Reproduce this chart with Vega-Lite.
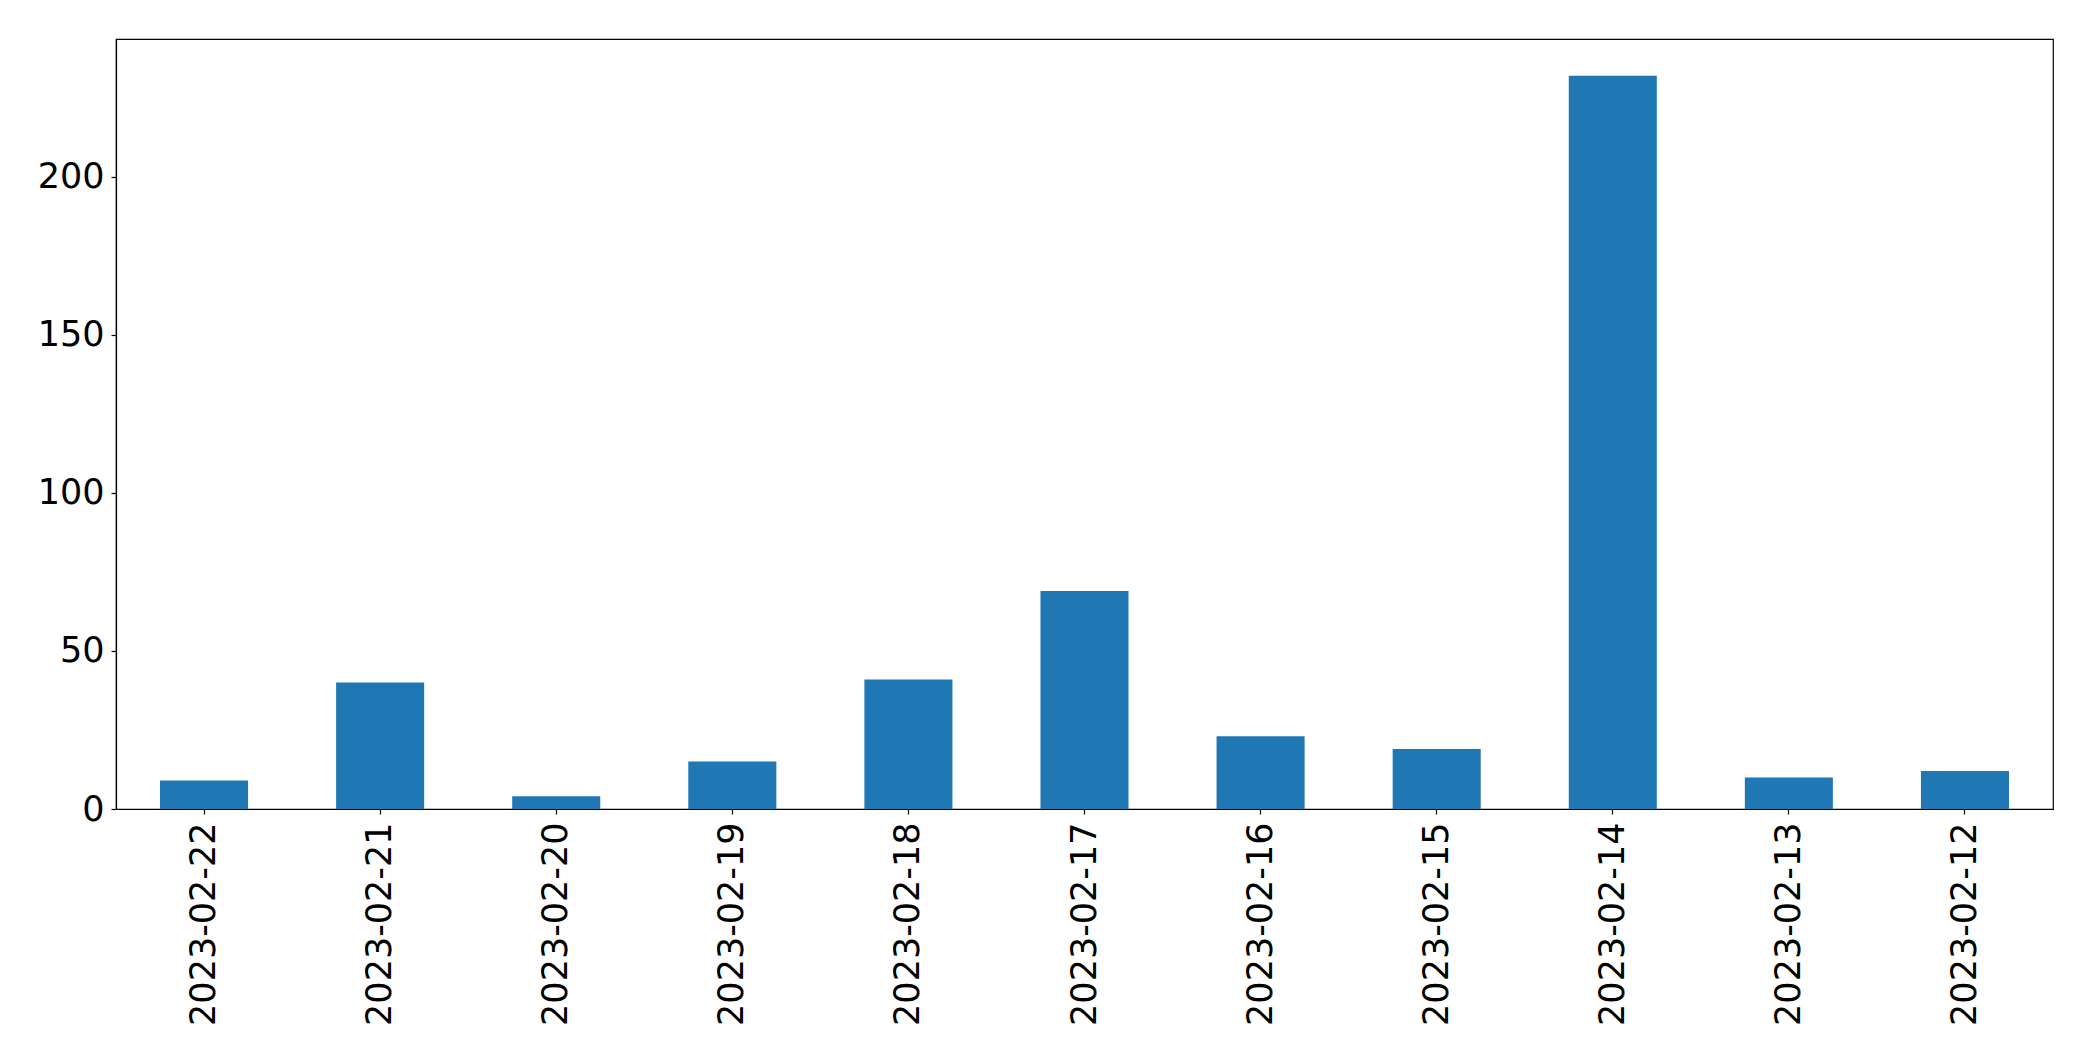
{
  "$schema": "https://vega.github.io/schema/vega-lite/v6.json",
  "autosize": "none",
  "width": 1937,
  "height": 770,
  "padding": {"left": 116, "top": 39, "right": 40, "bottom": 252},
  "background": "white",
  "config": {
    "view": {"stroke": "#000000", "strokeWidth": 1.2},
    "font": "DejaVu Sans",
    "axis": {
      "domainColor": "#000000",
      "domainWidth": 1.2,
      "tickColor": "#000000",
      "tickWidth": 1.2,
      "tickSize": 5,
      "labelColor": "#000000",
      "labelFont": "DejaVu Sans",
      "labelFontSize": 35,
      "labelLimit": 0,
      "grid": false,
      "title": null
    }
  },
  "data": {
    "values": [
      {"date": "2023-02-22", "count": 9},
      {"date": "2023-02-21", "count": 40},
      {"date": "2023-02-20", "count": 4},
      {"date": "2023-02-19", "count": 15},
      {"date": "2023-02-18", "count": 41},
      {"date": "2023-02-17", "count": 69},
      {"date": "2023-02-16", "count": 23},
      {"date": "2023-02-15", "count": 19},
      {"date": "2023-02-14", "count": 232},
      {"date": "2023-02-13", "count": 10},
      {"date": "2023-02-12", "count": 12}
    ]
  },
  "mark": {"type": "bar", "color": "#1f77b4"},
  "encoding": {
    "x": {
      "field": "date",
      "type": "nominal",
      "sort": null,
      "scale": {"paddingInner": 0.5, "paddingOuter": 0.25},
      "axis": {"labelAngle": -90, "labelAlign": "right", "labelBaseline": "middle", "labelPadding": 8, "labelLimit": 0, "domainColor": "#000000", "title": null}
    },
    "y": {
      "field": "count",
      "type": "quantitative",
      "scale": {"domain": [0, 243.6], "nice": false, "zero": true},
      "axis": {"values": [0, 50, 100, 150, 200], "labelPadding": 7, "domainColor": "#000000", "title": null}
    }
  }
}
